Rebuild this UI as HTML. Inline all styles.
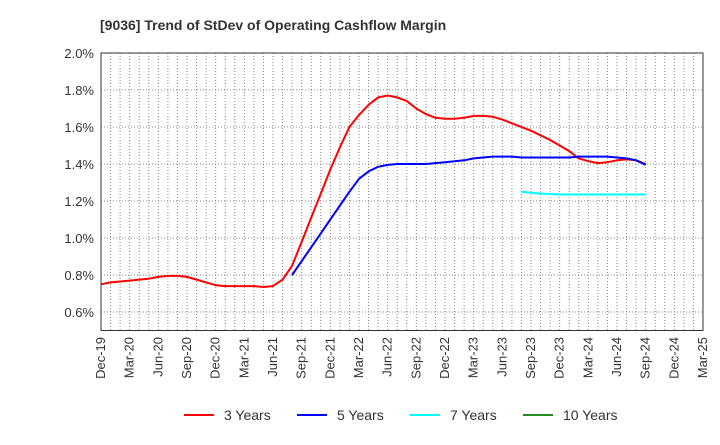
<!DOCTYPE html>
<html><head><meta charset="utf-8"><style>
body{margin:0;background:#fff;font-family:"Liberation Sans",sans-serif;}
</style></head><body>
<svg id="chart" width="720" height="440" xmlns="http://www.w3.org/2000/svg">
<text x="100" y="30" font-size="14" font-weight="bold" fill="#333">[9036]  Trend of StDev of Operating Cashflow Margin</text>
<g id="grid"></g><g id="axes"></g><g id="series"></g>
<g>
<g><line x1="184" y1="415" x2="214" y2="415" stroke="#f00" stroke-width="2"/><text x="224" y="420" font-size="14" fill="#333">3 Years</text></g>
<g><line x1="297" y1="415" x2="327" y2="415" stroke="#00f" stroke-width="2"/><text x="337" y="420" font-size="14" fill="#333">5 Years</text></g>
<g><line x1="410" y1="415" x2="440" y2="415" stroke="#0ff" stroke-width="2"/><text x="450" y="420" font-size="14" fill="#333">7 Years</text></g>
<g><line x1="523" y1="415" x2="553" y2="415" stroke="#228b22" stroke-width="2"/><text x="563" y="420" font-size="14" fill="#333">10 Years</text></g>
</g>
</svg>
<script>
const xLabels=["Dec-19","Mar-20","Jun-20","Sep-20","Dec-20","Mar-21","Jun-21","Sep-21","Dec-21","Mar-22","Jun-22","Sep-22","Dec-22","Mar-23","Jun-23","Sep-23","Dec-23","Mar-24","Jun-24","Sep-24","Dec-24","Mar-25"];
const yTicks=[0.6,0.8,1.0,1.2,1.4,1.6,1.8,2.0];
const red3=[0.75,0.76,0.765,0.77,0.775,0.78,0.79,0.795,0.795,0.79,0.775,0.76,0.745,0.74,0.74,0.74,0.74,0.735,0.74,0.775,0.85,0.98,1.11,1.24,1.37,1.49,1.60,1.665,1.72,1.76,1.77,1.76,1.74,1.70,1.67,1.65,1.645,1.645,1.65,1.66,1.66,1.655,1.64,1.62,1.60,1.58,1.555,1.53,1.50,1.47,1.43,1.415,1.405,1.41,1.42,1.425,1.42,1.40];
const blue5Start=20;
const blue5=[0.80,0.875,0.95,1.025,1.10,1.175,1.25,1.32,1.36,1.385,1.395,1.40,1.40,1.40,1.40,1.405,1.41,1.415,1.42,1.43,1.435,1.44,1.44,1.44,1.435,1.435,1.435,1.435,1.435,1.435,1.44,1.44,1.44,1.44,1.435,1.43,1.42,1.395];
const cyan7Start=44;
const cyan7=[1.25,1.245,1.24,1.238,1.235,1.235,1.235,1.235,1.235,1.235,1.235,1.235,1.235,1.235];
const X0=101,X1=703,Y0=53,Y1=330.5,YMIN=0.5,YMAX=2.0,MONTHS=63;
const xs=i=>X0+(X1-X0)*i/MONTHS;
const ys=v=>Y1-(v-YMIN)/(YMAX-YMIN)*(Y1-Y0);
const NS="http://www.w3.org/2000/svg";
function mk(tag,attrs,parent){const e=document.createElementNS(NS,tag);for(const k in attrs)e.setAttribute(k,attrs[k]);parent.appendChild(e);return e;}
const grid=document.getElementById('grid'),axes=document.getElementById('axes'),ser=document.getElementById('series');
for(let m=1;m<MONTHS;m++){const g=mk('line',{x1:xs(m),x2:xs(m),y1:Y0,y2:Y1,stroke:'#888','stroke-dasharray':'1,2','stroke-width':1},grid);

}
yTicks.forEach(v=>{const g=mk('line',{x1:X0,x2:X1,y1:ys(v),y2:ys(v),stroke:'#888','stroke-dasharray':'1,2','stroke-width':1},grid);


const t=mk('text',{x:X0-7,y:ys(v)+5,'font-size':13,fill:'#333','text-anchor':'end'},axes);t.textContent=v.toFixed(1)+'%';

});
const fr=mk('rect',{x:X0,y:Y0,width:X1-X0,height:Y1-Y0,fill:'none',stroke:'#333','stroke-width':1},axes);


xLabels.forEach((l,i)=>{const x=xs(i*3);const t=mk('text',{x:0,y:0,'font-size':13,fill:'#333','text-anchor':'end',transform:`translate(${x+4},337) rotate(-90)`},axes);t.textContent=l;

});
function line(arr,start,color,name){const pts=arr.map((v,i)=>xs(start+i).toFixed(1)+','+ys(v).toFixed(1)).join(' ');
const p=mk('polyline',{points:pts,fill:'none',stroke:color,'stroke-width':2,'stroke-linejoin':'round'},ser);

}
line(red3,0,'#f00','series-3-years');
line(blue5,blue5Start,'#00f','series-5-years');
line(cyan7,cyan7Start,'#0ff','series-7-years');
</script>
</body></html>
